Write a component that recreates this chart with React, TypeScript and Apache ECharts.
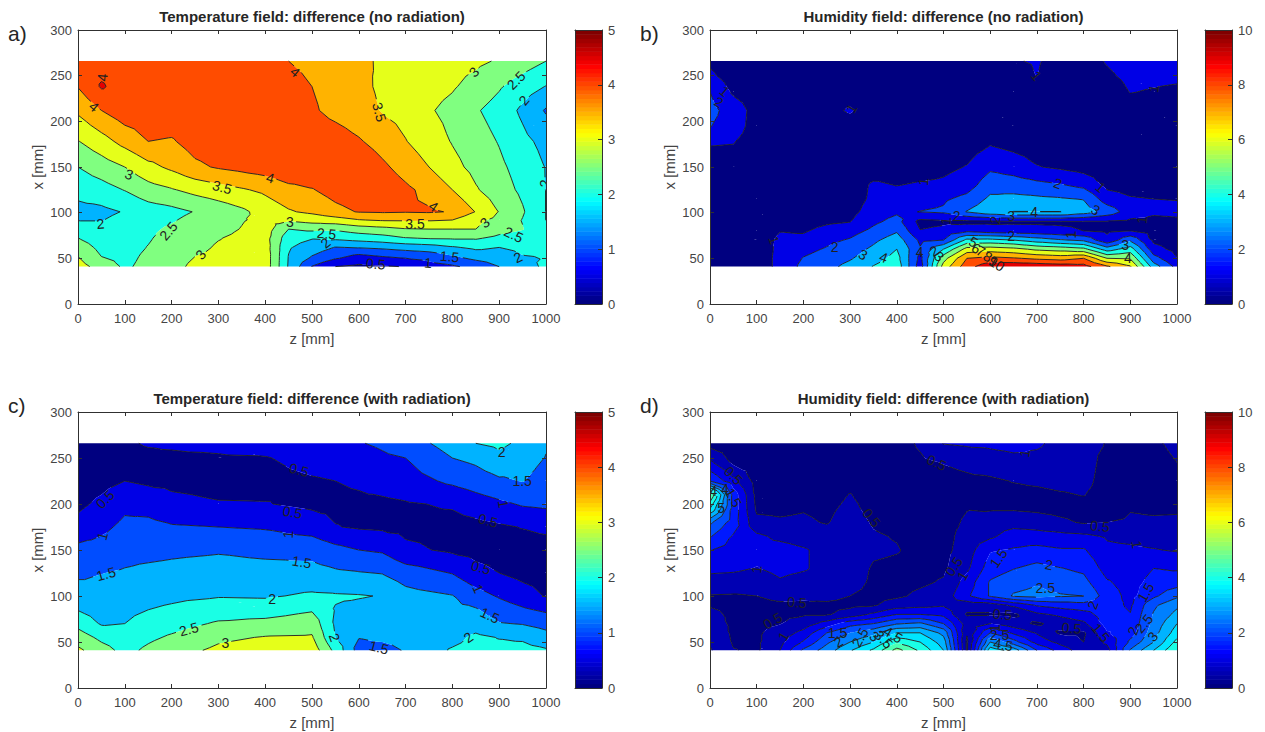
import React, { useEffect, useRef } from "react";
import * as echarts from "echarts";

const FONT = "Liberation Sans";

// ---------- panel a: temperature, no radiation (rows listed top to bottom) ----------
const zA = [0,50,100,150,200,250,300,350,400,450,500,550,600,650,700,750,800,850,900,950,1000];
const xA = [266,238,212,178,150,125,101,92,82,72,62,52,41];
const aR265 = [4.3,4.3,4.3,4.3,4.3,4.3,4.3,4.3,4.25,4.0,3.86,3.72,3.58,3.45,3.35,3.25,3.18,3.1,2.95,2.75,2.5];
const aR238 = [4.02,4.55,4.3,4.3,4.3,4.3,4.3,4.3,4.3,4.2,4.0,3.8,3.62,3.42,3.3,3.18,3.05,2.82,2.55,2.25,1.98];
const aR212 = [3.59,4.0,4.3,4.35,4.35,4.35,4.35,4.35,4.35,4.3,4.07,3.85,3.7,3.47,3.33,3.05,2.85,2.55,2.3,1.9,1.45];
const aR178 = [2.98,3.3,3.67,4.0,3.95,4.2,4.3,4.35,4.35,4.35,4.35,4.25,4.05,3.8,3.52,3.25,2.97,2.72,2.47,2.13,1.85];
const aR150 = [2.5,2.75,3.0,3.35,3.6,3.9,4.05,4.15,4.25,4.4,4.4,4.4,4.4,4.1,3.8,3.5,3.15,2.85,2.6,2.3,1.98];
const aR125 = [2.15,2.3,2.52,2.8,2.96,3.15,3.3,3.45,3.6,3.85,3.97,4.2,4.35,4.35,4.1,3.85,3.5,3.05,2.72,2.4,1.99];
const aR101 = [1.85,1.88,2.03,2.25,2.35,2.52,2.7,2.9,3.2,3.45,3.6,3.85,4.03,4.05,4.03,4.05,3.97,3.48,2.98,2.55,1.99];
const aR92 = [1.98,1.98,2.15,2.35,2.45,2.65,2.8,2.97,3.1,3.08,3.2,3.3,3.48,3.55,3.56,3.55,3.5,3.12,2.87,2.48,1.99];
const aR82 = [2.25,2.1,2.25,2.4,2.58,2.72,2.85,3.02,3.25,2.5,2.62,2.58,2.75,2.85,2.97,3.0,3.0,3.0,2.68,2.52,2.2];
const aR72 = [2.51,2.2,2.3,2.45,2.7,2.85,2.98,3.1,3.2,2.2,2.03,2.1,2.2,2.3,2.47,2.53,2.55,2.55,2.38,2.3,2.15];
const aR62 = [2.8,2.35,2.3,2.52,2.75,2.88,3.05,3.1,3.25,2.05,1.75,1.48,1.53,1.6,1.7,1.78,1.95,2.1,2.0,2.1,2.2];
const aR52 = [3.0,2.5,2.35,2.6,2.85,3.0,3.1,3.12,3.3,1.98,1.48,1.15,0.85,1.0,1.1,1.2,1.45,1.7,1.78,1.98,2.02];
const aR41 = [3.2,2.8,2.42,2.65,2.88,3.08,3.15,3.12,3.3,1.95,0.98,0.5,0.4,0.45,0.52,0.8,0.93,1.15,1.5,1.85,2.07];

// ---------- panel b: humidity, no radiation (one list per z column) ----------
const zB = zA;
const xB = [41,50,60,70,80,90,101,115,130,150,175,195,212,232,250,266];
const bZ0 = [.3,.3,.3,.3,.3,.3,.3,.3,.35,.5,1.05,2.05,2.3,2.0,1.2,.8];
const bZ50 = [.3,.3,.3,.3,.3,.3,.3,.3,.35,.4,1.0,1.5,1.55,.85,.5,.4];
const bZ100 = [.4,.4,.4,.4,.4,.3,.3,.3,.3,.35,.45,.55,.6,.45,.35,.3];
const bZ150 = [1.3,1.3,1.25,1.2,.97,.7,.5,.4,.35,.3,.35,.35,.4,.35,.3,.3];
const bZ200 = [2.25,2.05,1.7,1.25,.9,.65,.5,.4,.35,.3,.35,.4,.5,.4,.3,.3];
const bZ250 = [2.7,2.45,2.1,1.75,1.3,.85,.6,.45,.35,.3,.4,.55,.75,.55,.35,.3];
const bZ300 = [3.3,2.9,2.55,2.1,1.6,.98,.7,.55,.45,.3,.35,.6,1.1,.6,.35,.3];
const bZ350 = [4.05,3.6,3.2,2.8,2.25,1.8,1.45,1.2,1.15,.5,.3,.35,.4,.35,.3,.3];
const bZ400 = [4.6,4.35,4.0,3.5,2.9,2.35,1.85,1.45,.98,.6,.3,.3,.3,.3,.3,.3];
const bZ450 = [1.5,1.7,2.1,1.8,1.05,.7,2.02,1.6,1.1,.55,.3,.3,.3,.3,.3,.3];
const bZ500 = [6.4,5.6,4.0,2.0,1.3,.8,2.15,1.85,1.2,.75,.35,.3,.3,.3,.3,.3];
const bZ550 = [8.6,8.0,6.4,4.25,1.8,.75,3.05,2.3,1.55,1.05,.5,.3,.3,.3,.3,.3];
const bZ600 = [9.7,8.3,6.5,4.3,1.5,.8,3.7,3.2,2.6,1.8,.95,.5,.35,.3,.3,.3];
const bZ650 = [9.85,8.1,6.3,4.0,1.4,.85,4.02,3.3,2.5,1.55,.7,.4,.3,.3,.5,.92];
const bZ700 = [9.75,7.8,5.8,3.5,1.35,.85,4.02,3.2,2.3,1.05,.5,.35,.3,.3,1.02,1.1];
const bZ750 = [9.6,7.6,5.6,3.1,1.2,.85,4.02,3.1,2.1,.85,.4,.3,.3,.3,.4,.6];
const bZ800 = [9.4,8.0,5.3,2.8,1.0,.88,3.5,2.95,1.75,.6,.35,.3,.3,.3,.35,.4];
const bZ850 = [8.15,6.0,3.5,1.25,.85,.9,2.6,1.5,.75,.4,.3,.3,.3,.3,.8,1.1];
const bZ900 = [7.1,5.9,4.5,2.8,1.0,.8,1.5,1.08,.65,.35,.3,.3,.5,1.03,1.3,1.5];
const bZ950 = [3.5,2.4,1.35,.8,.65,.75,1.15,1.0,.6,.35,.3,.3,.4,.92,1.2,1.35];
const bZ1000 = [1.7,1.03,.7,.55,.6,.88,1.15,.98,.6,.4,.3,.3,.4,.85,1.15,1.25];

// ---------- panel c: temperature, with radiation (one list per z column) ----------
const zC = [0,50,100,150,200,300,400,500,550,600,650,700,800,850,900,950,1000];
const xC = [41,55,70,85,100,125,150,175,200,225,250,266];
const cZ0 = [3.1,2.75,2.35,1.98,1.75,1.4,1.15,.65,.4,.25,.2,.2];
const cZ50 = [2.7,2.38,1.95,1.78,1.66,1.49,1.2,.88,.6,.35,.28,.35];
const cZ100 = [2.35,2.2,2.0,1.88,1.76,1.55,1.33,1.12,.88,.5,.43,.47];
const cZ150 = [2.6,2.4,2.2,2.0,1.85,1.62,1.35,1.15,.8,.42,.45,.52];
const cZ200 = [2.8,2.57,2.3,2.08,1.9,1.65,1.4,1.05,.62,.4,.44,.55];
const cZ300 = [3.1,2.9,2.56,2.25,1.97,1.72,1.45,1.0,.53,.35,.45,.62];
const cZ400 = [3.25,3.03,2.65,2.25,1.95,1.68,1.38,.95,.52,.35,.47,.75];
const cZ500 = [3.3,3.05,2.8,2.45,2.07,1.68,1.33,.78,.4,.45,.68,.9];
const cZ550 = [2.35,2.0,1.92,1.97,2.05,1.58,1.15,.52,.38,.5,.72,.93];
const cZ600 = [1.3,1.52,1.7,1.88,2.03,1.53,1.0,.45,.4,.57,.78,.97];
const cZ650 = [1.28,1.62,1.72,1.85,1.98,1.48,.93,.42,.4,.7,.92,1.08];
const cZ700 = [1.55,1.72,1.78,1.8,1.68,1.25,.6,.38,.46,.78,1.0,1.25];
const cZ800 = [2.05,1.85,1.7,1.62,1.52,.98,.42,.35,.55,1.1,1.5,1.72];
const cZ850 = [2.15,2.1,1.78,1.55,1.2,.65,.35,.35,.75,1.25,1.62,2.0];
const cZ900 = [2.12,1.98,1.53,1.25,.95,.5,.3,.43,.9,1.42,1.88,2.1];
const cZ950 = [2.15,1.93,1.47,1.07,.72,.35,.28,.52,1.05,1.52,1.72,1.9];
const cZ1000 = [2.05,1.7,1.32,.92,.47,.3,.3,.6,1.1,1.3,1.48,1.55];

// ---------- panel d: humidity, with radiation (one list per z column) ----------
const zD = zA;
const xD = [41,50,60,70,80,90,100,115,130,150,165,180,195,210,225,245,266];
const dZ0 = [1.05,.95,.85,.7,.6,.47,.47,.85,1.1,1.52,2.05,2.6,4.0,5.0,2.0,1.1,.3];
const dZ50 = [.52,.45,.42,.42,.42,.42,.45,.8,1.08,1.3,1.45,1.75,1.8,1.8,1.15,.4,.25];
const dZ100 = [.42,.42,.42,.42,.42,.42,.5,.75,.98,1.15,1.1,.62,.42,.35,.3,.25,.25];
const dZ150 = [1.0,.85,.72,.48,.42,.45,.58,.95,1.12,1.2,.88,.55,.42,.35,.3,.25,.25];
const dZ200 = [2.1,1.55,1.15,.72,.45,.45,.55,.82,1.05,1.05,.78,.57,.47,.35,.3,.25,.25];
const dZ250 = [2.75,2.4,2.0,1.2,.45,.42,.62,.78,.85,.85,.7,.47,.4,.3,.27,.25,.25];
const dZ300 = [3.45,3.0,2.5,1.8,.7,.4,.5,.68,.75,.85,.8,.72,.62,.52,.35,.25,.25];
const dZ350 = [4.1,3.5,2.85,2.0,1.1,.45,.4,.42,.45,.58,.55,.45,.35,.3,.27,.25,.25];
const dZ400 = [5.2,4.4,3.5,2.45,1.5,.75,.42,.35,.4,.53,.47,.35,.3,.27,.25,.25,.25];
const dZ450 = [4.4,4.0,3.5,2.6,1.5,.85,.6,.42,.35,.35,.3,.3,.27,.27,.27,.4,.58];
const dZ500 = [3.5,3.25,2.85,2.0,1.35,.95,.72,.55,.42,.35,.3,.3,.27,.27,.33,.52,1.02];
const dZ550 = [.42,.4,.55,.75,.45,.7,1.4,1.2,.9,.75,.72,.58,.48,.35,.4,.62,1.08];
const dZ600 = [3.8,3.0,2.0,1.0,.45,.7,2.05,2.05,1.75,1.45,.9,.75,.45,.35,.42,.75,1.1];
const dZ650 = [3.3,2.2,1.4,.7,.4,1.1,2.55,2.3,1.98,1.55,1.25,.8,.45,.37,.52,.85,1.15];
const dZ700 = [2.0,1.3,.95,.42,.9,1.55,2.65,2.45,2.15,1.65,1.2,.75,.4,.38,.58,.9,1.05];
const dZ750 = [1.3,.85,.42,.7,1.1,1.7,2.55,2.25,2.02,1.55,1.15,.6,.35,.45,.65,.85,.9];
const dZ800 = [.7,.5,.42,.9,1.3,1.8,2.5,2.15,1.9,1.55,1.1,.45,.3,.52,.65,.7,.65];
const dZ850 = [.8,1.1,1.45,1.7,1.75,1.7,1.75,1.55,1.3,1.1,.95,.5,.3,.3,.3,.35,.48];
const dZ900 = [2.55,2.1,1.75,1.6,1.52,1.42,1.35,1.32,1.25,1.1,.85,.55,.48,.3,.3,.3,.38];
const dZ950 = [3.5,3.0,2.8,2.65,2.55,2.4,1.9,1.65,1.5,1.03,.75,.55,.45,.3,.3,.32,.42];
const dZ1000 = [4.5,4.15,3.75,3.5,3.15,2.9,2.4,1.75,1.45,.95,.75,.57,.45,.35,.35,.5,.62];

// ---------- contour labels: z, x, text, tilt in degrees ----------
type Lab = [number, number, string, number];
const labelsA: Lab[] = [
  [34,216,"4",-40],[52,248,"4",85],[464,254,"4",-40],[644,210,"3.5",-75],[846,254,"3",45],[936,245,"2.5",45],[953,223,"2",50],
  [998,132,"2",90],[109,142,"3",-20],[308,128,"3.5",-15],[411,138,"4",-15],[760,107,"4",-35],[48,88,"2",5],
  [193,80,"2.5",50],[262,54,"3",50],[453,90,"3",0],[531,77,"2.5",-5],[529,67,"2",40],[720,88,"3.5",0],
  [869,89,"3",40],[931,76,"2.5",-25],[940,51,"2",25],[636,44,"0.5",-5],[748,45,"1",-5],[794,52,"1.5",-5],
];
const labelsB: Lab[] = [
  [31,233,"1",-40],[19,221,"2",-30],[303,214,"1",60],[699,250,"1",-50],[950,236,"1",80],[457,134,"1",85],
  [745,132,"2",-20],[836,128,"1",-40],[528,96,"2",0],[505,91,"1",85],[611,92,"2",80],[645,96,"3",0],[694,101,"4",0],
  [826,103,"3",-30],[925,92,"1",85],[137,70,"1",-70],[267,62,"2",0],[645,74,"2",0],[772,76,"1",90],[328,54,"3",-30],
  [372,51,"4",-20],[449,57,"4",0],[480,58,"2",30],[491,52,"3",-40],[564,68,"5",-30],[570,61,"6",-30],[580,58,"7",-30],
  [595,52,"8",-30],[607,47,"9",-30],[614,44,"10",-30],[889,65,"3",0],[895,50,"4",0],
];
const labelsC: Lab[] = [
  [58,205,"0.5",45],[472,237,"0.5",-15],[458,191,"0.5",-10],[876,182,"0.5",-15],[861,131,"0.5",-15],
  [52,165,"1",75],[449,167,"1",85],[909,200,"1",-80],[855,108,"1",-65],
  [60,124,"1.5",15],[478,137,"1.5",-10],[949,225,"1.5",0],[880,79,"1.5",-25],[643,44,"1.5",-15],
  [905,256,"2",0],[415,97,"2",0],[548,55,"2",-70],[834,55,"2",35],[237,64,"2.5",15],[315,49,"3",0],
];
const labelsD: Lab[] = [
  [50,231,"0.5",-45],[50,207,"1.5",-60],[485,245,"0.5",-25],[346,185,"0.5",-50],[835,176,"0.5",-5],[522,132,"0.5",55],
  [186,93,"0.5",-5],[134,73,"0.5",30],[626,80,"0.5",-5],[774,65,"0.5",-5],
  [674,255,"1",80],[100,129,"1",85],[914,156,"1",-80],[541,122,"1",60],[157,56,"1",60],[611,65,"1",90],
  [618,141,"1.5",55],[933,104,"1.5",60],[273,60,"1.5",0],[837,60,"1.5",-50],[726,134,"2",-10],[275,50,"2",30],[820,90,"2",70],
  [718,109,"2.5",0],[321,55,"2.5",60],[929,70,"2.5",50],[906,62,"2",70],[948,56,"3",50],[352,56,"3",-40],[372,53,"3.5",-45],
  [392,58,"4.5",-30],[620,58,"2.5",0],[628,47,"4.5",-10],[7,214,"4",0],[32,216,"4",0],[24,196,"5",0],
];

const rowsTopDownA = [aR265,aR238,aR212,aR178,aR150,aR125,aR101,aR92,aR82,aR72,aR62,aR52,aR41];
const colsB = [bZ0,bZ50,bZ100,bZ150,bZ200,bZ250,bZ300,bZ350,bZ400,bZ450,bZ500,bZ550,bZ600,bZ650,bZ700,bZ750,bZ800,bZ850,bZ900,bZ950,bZ1000];
const colsC = [cZ0,cZ50,cZ100,cZ150,cZ200,cZ300,cZ400,cZ500,cZ550,cZ600,cZ650,cZ700,cZ800,cZ850,cZ900,cZ950,cZ1000];
const colsD = [dZ0,dZ50,dZ100,dZ150,dZ200,dZ250,dZ300,dZ350,dZ400,dZ450,dZ500,dZ550,dZ600,dZ650,dZ700,dZ750,dZ800,dZ850,dZ900,dZ950,dZ1000];
const xAscA = [...xA].reverse();
const colsA = zA.map((_, c) => [...rowsTopDownA].reverse().map((r) => r[c]));

const titles = [
  "Temperature field: difference (no radiation)",
  "Humidity field: difference (no radiation)",
  "Temperature field: difference (with radiation)",
  "Humidity field: difference (with radiation)",
];
const letters = ["a)", "b)", "c)", "d)"];

// ---------- colour map ----------
const clamp01 = (v: number) => Math.max(0, Math.min(1, v));
function jet(v: number) {
  const r = clamp01(Math.min(4 * v - 1.5, -4 * v + 4.5));
  const g = clamp01(Math.min(4 * v - 0.5, -4 * v + 3.5));
  const b = clamp01(Math.min(4 * v + 0.5, -4 * v + 2.5));
  return `rgb(${Math.round(r * 255)},${Math.round(g * 255)},${Math.round(b * 255)})`;
}

// ---------- contouring ----------
type P = [number, number, number];
const lerp = (a: P, b: P, l: number): P => {
  const t = (l - a[2]) / (b[2] - a[2]);
  return [a[0] + (b[0] - a[0]) * t, a[1] + (b[1] - a[1]) * t, l];
};
function clip(poly: P[], l: number, keepAbove: boolean) {
  const out: P[] = [];
  for (let i = 0; i < poly.length; i++) {
    const a = poly[i], b = poly[(i + 1) % poly.length];
    const ia = keepAbove ? a[2] >= l : a[2] <= l;
    const ib = keepAbove ? b[2] >= l : b[2] <= l;
    if (ia) out.push(a);
    if (ia !== ib) out.push(lerp(a, b, l));
  }
  return out;
}
function contour(zs: number[], xs: number[], cols: number[][], step: number, max: number) {
  const n = Math.round(max / step);
  const bands: P[][][] = Array.from({ length: n }, () => []);
  const lines: [P, P][][] = Array.from({ length: n }, () => []);
  for (let c = 0; c < zs.length - 1; c++) {
    for (let r = 0; r < xs.length - 1; r++) {
      const p00: P = [zs[c], xs[r], cols[c][r]];
      const p10: P = [zs[c + 1], xs[r], cols[c + 1][r]];
      const p11: P = [zs[c + 1], xs[r + 1], cols[c + 1][r + 1]];
      const p01: P = [zs[c], xs[r + 1], cols[c][r + 1]];
      const m: P = [(zs[c] + zs[c + 1]) / 2, (xs[r] + xs[r + 1]) / 2, (p00[2] + p10[2] + p11[2] + p01[2]) / 4];
      const tris: P[][] = [[p00, p10, m], [p10, p11, m], [p11, p01, m], [p01, p00, m]];
      for (const t of tris) {
        for (let b = 0; b < n; b++) {
          let poly = t;
          if (b > 0) poly = clip(poly, b * step, true);
          if (poly.length >= 3 && b < n - 1) poly = clip(poly, (b + 1) * step, false);
          if (poly.length >= 3) bands[b].push(poly);
          if (b > 0) {
            const l = b * step;
            const pts: P[] = [];
            for (let i = 0; i < 3; i++) {
              const u = t[i], v = t[(i + 1) % 3];
              if (u[2] >= l !== v[2] >= l) pts.push(lerp(u, v, l));
            }
            if (pts.length === 2) lines[b].push([pts[0], pts[1]]);
          }
        }
      }
    }
  }
  return { bands, lines };
}

const panels = [
  { zs: zA, xs: xAscA, cols: colsA, step: 0.5, max: 5, labels: labelsA, barStep: 1, left: 78, w: 468, barLeft: 575, top: 30, h: 274, titleY: 16, letterY: 33 },
  { zs: zB, xs: xB, cols: colsB, step: 1, max: 10, labels: labelsB, barStep: 2, left: 710, w: 467, barLeft: 1205, top: 30, h: 274, titleY: 16, letterY: 33 },
  { zs: zC, xs: xC, cols: colsC, step: 0.5, max: 5, labels: labelsC, barStep: 1, left: 78, w: 468, barLeft: 575, top: 412, h: 276, titleY: 398, letterY: 405 },
  { zs: zD, xs: xD, cols: colsD, step: 0.5, max: 10, labels: labelsD, barStep: 2, left: 710, w: 467, barLeft: 1205, top: 412, h: 276, titleY: 398, letterY: 405 },
];
const BAR_W = 27;

const axisCommon = (extra: any) => ({
  z: 10,
  axisLine: { show: true, onZero: false, lineStyle: { color: "#303030", width: 1 } },
  axisTick: { show: true, inside: true, length: 4, lineStyle: { color: "#303030", width: 1 } },
  splitLine: { show: false },
  ...extra,
});
const labelStyle = { color: "#444", fontSize: 13, fontFamily: FONT };
const nameStyle = { color: "#444", fontSize: 15, fontFamily: FONT };

function buildOption() {
  const grid: any[] = [], xAxis: any[] = [], yAxis: any[] = [], series: any[] = [], title: any[] = [];
  panels.forEach((p, i) => {
    const { bands, lines } = contour(p.zs, p.xs, p.cols, p.step, p.max);
    const gi = grid.length;
    grid.push({ left: p.left, top: p.top, width: p.w, height: p.h });
    grid.push({ left: p.barLeft, top: p.top, width: BAR_W, height: p.h });
    const xi = xAxis.length, yi = yAxis.length;
    xAxis.push(
      axisCommon({ gridIndex: gi, type: "value", min: 0, max: 1000, interval: 100, position: "bottom",
        axisLabel: { ...labelStyle, margin: 8, hideOverlap: false, formatter: (v: number) => String(v) },
        name: "z [mm]", nameLocation: "middle", nameGap: 27, nameTextStyle: nameStyle }),
      axisCommon({ gridIndex: gi, type: "value", min: 0, max: 1000, interval: 100, position: "top", axisLabel: { show: false } }),
      axisCommon({ gridIndex: gi + 1, type: "value", min: 0, max: 1, position: "bottom", axisTick: { show: false }, axisLabel: { show: false } }),
      axisCommon({ gridIndex: gi + 1, type: "value", min: 0, max: 1, position: "top", axisTick: { show: false }, axisLabel: { show: false } }),
    );
    yAxis.push(
      axisCommon({ gridIndex: gi, type: "value", min: 0, max: 300, interval: 50, position: "left", axisLabel: { ...labelStyle, margin: 6 },
        name: "x [mm]", nameLocation: "middle", nameGap: 33, nameTextStyle: nameStyle }),
      axisCommon({ gridIndex: gi, type: "value", min: 0, max: 300, interval: 50, position: "right", axisLabel: { show: false } }),
      axisCommon({ gridIndex: gi + 1, type: "value", min: 0, max: p.max, interval: p.barStep, position: "right", axisLabel: { ...labelStyle, margin: 6 } }),
      axisCommon({ gridIndex: gi + 1, type: "value", min: 0, max: p.max, interval: p.barStep, position: "left", axisTick: { show: false }, axisLabel: { show: false } }),
    );
    const toPath = (api: any, pts: number[][]) =>
      "M" + pts.map((q) => { const c = api.coord([q[0], q[1]]); return c[0].toFixed(1) + " " + c[1].toFixed(1); }).join("L") + "Z";
    series.push({
      type: "custom", coordinateSystem: "cartesian2d", xAxisIndex: xi, yAxisIndex: yi, silent: true, clip: true, z: 2,
      data: bands.map((_, b) => [b, b]),
      renderItem: (params: any, api: any) => {
        const b = params.dataIndex;
        if (!bands[b].length) return null;
        return { type: "path", shape: { pathData: bands[b].map((t) => toPath(api, t)).join("") }, style: { fill: jet((b * p.step) / p.max), stroke: null } };
      },
    });
    series.push({
      type: "custom", coordinateSystem: "cartesian2d", xAxisIndex: xi, yAxisIndex: yi, silent: true, clip: true, z: 3,
      data: lines.map((_, b) => [b, b]),
      renderItem: (params: any, api: any) => {
        const b = params.dataIndex;
        if (!lines[b].length) return null;
        // contour lines break under their own labels, as clabel does
        const holes = p.labels
          .filter((l) => Math.abs(parseFloat(l[2]) - b * p.step) < 1e-6)
          .map((l) => ({ c: api.coord([l[0], l[1]]), r: 2.5 + l[2].length * 3.6 }));
        let d = "";
        const seg = (a: number[], e: number[]) => {
          d += "M" + a[0].toFixed(1) + " " + a[1].toFixed(1) + "L" + e[0].toFixed(1) + " " + e[1].toFixed(1);
        };
        for (const s of lines[b]) {
          const a = api.coord([s[0][0], s[0][1]]), e = api.coord([s[1][0], s[1][1]]);
          let parts: [number, number][] = [[0, 1]];
          const dx = e[0] - a[0], dy = e[1] - a[1], L2 = dx * dx + dy * dy;
          if (L2 > 0) {
            for (const h of holes) {
              const fx = a[0] - h.c[0], fy = a[1] - h.c[1];
              const B = fx * dx + fy * dy, C = fx * fx + fy * fy - h.r * h.r, D = B * B - L2 * C;
              if (D <= 0) continue;
              const t0 = (-B - Math.sqrt(D)) / L2, t1 = (-B + Math.sqrt(D)) / L2;
              const next: [number, number][] = [];
              for (const [u, v] of parts) {
                if (t0 > u) next.push([u, Math.min(v, t0)]);
                if (t1 < v) next.push([Math.max(u, t1), v]);
              }
              parts = next;
            }
          }
          for (const [u, v] of parts) seg([a[0] + dx * u, a[1] + dy * u], [a[0] + dx * v, a[1] + dy * v]);
        }
        return { type: "path", shape: { pathData: d }, style: { fill: "none", stroke: "#1c1c1c", lineWidth: 0.9 } };
      },
    });
    series.push({
      type: "custom", coordinateSystem: "cartesian2d", xAxisIndex: xi, yAxisIndex: yi, silent: true, clip: true, z: 4,
      data: p.labels.map((l) => [l[0], l[1]]),
      renderItem: (params: any, api: any) => {
        const l = p.labels[params.dataIndex];
        const c = api.coord([api.value(0), api.value(1)]);
        return {
          type: "text", x: c[0], y: c[1], rotation: (l[3] * Math.PI) / 180,
          style: { text: l[2], fontSize: 14, fontFamily: FONT, fill: "#202020", align: "center", verticalAlign: "middle" },
        };
      },
    });
    // colour bar drawn from the map, through its own value axis
    const cells = Array.from({ length: 64 }, (_, k) => [k, k]);
    series.push({
      type: "custom", coordinateSystem: "cartesian2d", xAxisIndex: xi + 2, yAxisIndex: yi + 2, silent: true, clip: true, z: 2,
      data: cells,
      renderItem: (params: any, api: any) => {
        const k = params.dataIndex;
        const a = api.coord([0, ((k + 1) / 64) * p.max]);
        const b = api.coord([1, (k / 64) * p.max]);
        return { type: "rect", shape: { x: a[0], y: a[1], width: b[0] - a[0], height: b[1] - a[1] + 0.5 }, style: { fill: jet(k / 63) } };
      },
    });
    title.push({ text: titles[i], left: p.left + p.w / 2, top: p.titleY, padding: 0, textAlign: "center", textVerticalAlign: "middle",
      textStyle: { fontSize: 15, fontWeight: "bold", color: "#262626", fontFamily: FONT } });
    title.push({ text: letters[i], left: i % 2 ? 640 : 8, top: p.letterY, padding: 0, textVerticalAlign: "middle",
      textStyle: { fontSize: 21, fontWeight: "normal", color: "#262626", fontFamily: FONT } });
  });
  return { animation: false, backgroundColor: "#fff", grid, xAxis, yAxis, series, title };
}

export default function App() {
  const ref = useRef<HTMLDivElement>(null);
  useEffect(() => {
    document.body.style.margin = "0";
    const chart = echarts.init(ref.current!, undefined, { renderer: "svg" });
    chart.setOption(buildOption() as any);
    return () => chart.dispose();
  }, []);
  return <div ref={ref} style={{ width: 1265, height: 732 }} />;
}
